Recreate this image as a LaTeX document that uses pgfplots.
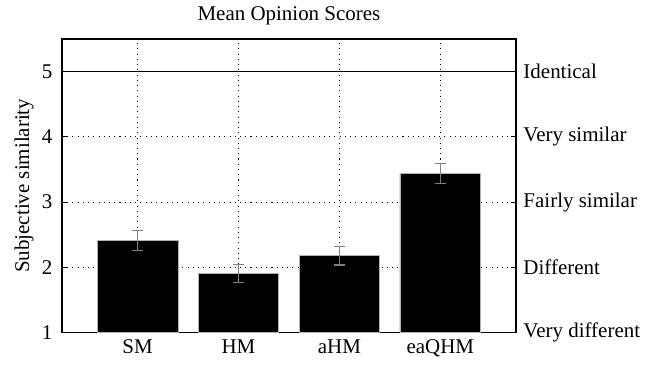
\documentclass[border=0pt]{standalone}
\usepackage{fontspec}
\setmainfont{Liberation Serif}
\usepackage{pgfplots}
\pgfplotsset{compat=1.18}
\begin{document}
\begin{tikzpicture}
\begin{axis}[
  name=main,
  scale only axis, width=216.7pt, height=140pt,
  xmin=0.25, xmax=4.75, ymin=1, ymax=5.5,
  xtick={1,2,3,4}, xticklabels={SM,HM,aHM,eaQHM},
  ytick={1,2,3,4,5},
  tick align=inside, major tick length=2.5pt,
  tick style={black, line width=0.4pt},
  ytick pos=left, xtick pos=bottom,
  grid=major, grid style={black, line width=0.4pt, dash pattern=on 0.5pt off 2pt},
  ylabel={Subjective similarity},
  ylabel style={yshift=-3pt},
  title={Mean Opinion Scores},
  title style={yshift=-3pt},
  /pgf/number format/assume math mode=true,
  axis line style={line width=0.7pt},
  yticklabel style={xshift=-1pt},
]
\addplot[ybar, bar width=0.8, fill=black, draw=gray!60,
  error bars/.cd, y dir=both, y explicit,
  error bar style={gray, line width=0.5pt},
  error mark options={rotate=90, gray, mark size=2.5pt, line width=0.5pt}]
  coordinates {
    (1,2.41) +- (0,0.15)
    (2,1.905) +- (0,0.135)
    (3,2.18) +- (0,0.145)
    (4,3.435) +- (0,0.15)
  };
\addplot[black, line width=0.6pt] coordinates {(0.25,5) (4.75,5)};
\end{axis}
\begin{axis}[
  scale only axis, width=216.7pt, height=140pt,
  xmin=0.25, xmax=4.75, ymin=1, ymax=5.5,
  hide x axis,
  axis y line*=right,
  ytick={1,2,3,4,5},
  yticklabels={Very different,Different,Fairly similar,Very similar,Identical},
  tick align=inside, major tick length=2.5pt,
  tick style={black, line width=0.4pt},
  axis line style={line width=0.7pt},
  yticklabel style={anchor=west, xshift=0pt},
]
\end{axis}
\path (main.south west) ++(-29.5pt,-15.7pt) coordinate (bl);
\path (main.north east) ++(72pt,16.7pt) coordinate (tr);
\end{tikzpicture}
\end{document}
